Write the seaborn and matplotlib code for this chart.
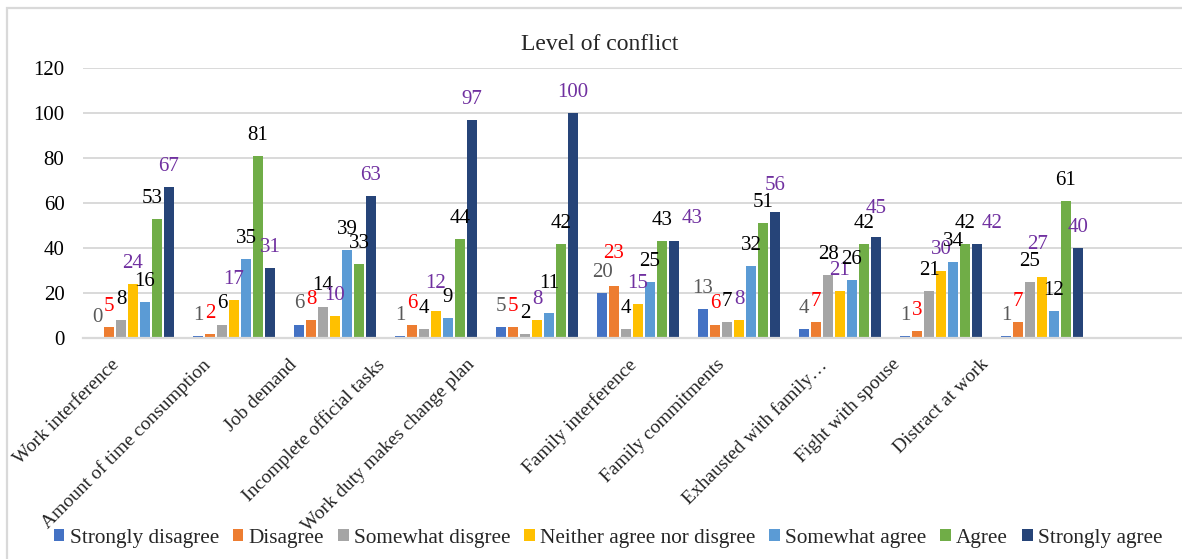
import matplotlib
matplotlib.use("Agg")
import matplotlib.pyplot as plt
import matplotlib.transforms as mtransforms
from matplotlib.patches import Rectangle
import seaborn as sns
import pandas as pd

# Survey items (x categories)
items = [
    "Work interference", "Amount of time consumption", "Job demand",
    "Incomplete official tasks", "Work duty makes change plan",
    "Family interference", "Family commitments", "Exhausted with family…",
    "Fight with spouse", "Distract at work",
]

# Response levels (legend order)
responses = [
    "Strongly disagree", "Disagree", "Somewhat disgree",
    "Neither agree nor disgree", "Somewhat agree", "Agree", "Strongly agree",
]

# Counts per response level, one value per item
strongly_disagree = [0, 1, 6, 1, 5, 20, 13, 4, 1, 1]
disagree          = [5, 2, 8, 6, 5, 23, 6, 7, 3, 7]
somewhat_disagree = [8, 6, 14, 4, 2, 4, 7, 28, 21, 25]
neutral           = [24, 17, 10, 12, 8, 15, 8, 21, 30, 27]
somewhat_agree    = [16, 35, 39, 9, 11, 25, 32, 26, 34, 12]
agree             = [53, 81, 33, 44, 42, 43, 51, 42, 42, 61]
strongly_agree    = [67, 31, 63, 97, 100, 43, 56, 45, 42, 40]

series = [strongly_disagree, disagree, somewhat_disagree, neutral,
          somewhat_agree, agree, strongly_agree]

bar_colors = ["#4472C4", "#ED7D31", "#A5A5A5", "#FFC000",
              "#5B9BD5", "#70AD47", "#264478"]
label_colors = ["#595959", "#FF0000", "#000000", "#7030A0",
                "#000000", "#000000", "#7030A0"]

# Horizontal nudge (px) of each rotated category label from its tick
label_nudge = [-22, -32, -47, -60, -71, -10, -23, -22, -50, -62]

# Value labels moved off their default spot to avoid crowding:
# (series index, item index) -> (dx px, dy px)
value_label_moves = {
    (5, 0): (-5, 0),
    (3, 3): (0, 7),
    (4, 4): (0, 9),
    (1, 5): (0, 12),
    (6, 5): (18, 2),
    (6, 6): (0, 6),
    (6, 7): (0, 8),
    (6, 8): (15, 0),
    (3, 9): (-4, 12),
}

rows = []
for resp, vals in zip(responses, series):
    for item, v in zip(items, vals):
        rows.append({"item": item, "response": resp, "value": v})
df = pd.DataFrame(rows)

sns.set_style("white")
plt.rcParams["font.family"] = ["Liberation Serif", "DejaVu Serif"]

W, H, DPI = 1182, 559, 100
PT = 72 / DPI  # points per pixel
fig = plt.figure(figsize=(W / DPI, H / DPI), dpi=DPI)
ax = fig.add_axes([82.5 / W, (H - 338) / H, 1 - 82.5 / W, (338 - 68) / H])

sns.barplot(data=df, x="item", y="value", hue="response",
            order=items, hue_order=responses, palette=bar_colors,
            saturation=1, width=0.83, gap=0.1, linewidth=0, ax=ax)

# Value labels above every bar
pad_px = 11
for si, (cont, col, vals) in enumerate(zip(ax.containers, label_colors, series)):
    anns = ax.bar_label(cont, labels=[str(v) for v in vals], padding=pad_px * PT,
                        color=col, fontsize=15)
    for ii, ann in enumerate(anns):
        if (si, ii) in value_label_moves:
            dx, dy = value_label_moves[(si, ii)]
            ann.xyann = (dx * PT, (pad_px + dy) * PT)

ax.set_ylim(0, 120)
ax.set_yticks(range(0, 121, 20))
ax.set_xlim(-0.5, -0.5 + (W - 82.5) / 101)
ax.set_xlabel("")
ax.set_ylabel("")
ax.grid(axis="y", color="#D9D9D9", linewidth=1.4)
ax.set_axisbelow(True)
for side in ["top", "right", "left"]:
    ax.spines[side].set_visible(False)
ax.spines["bottom"].set_color("#D9D9D9")
ax.spines["bottom"].set_linewidth(1.6)
ax.tick_params(axis="y", length=0, pad=13, labelsize=15, labelcolor="#000000")
ax.tick_params(axis="x", length=0, pad=0)

ax.set_xticks(range(len(items)))
ax.set_xticklabels(items, rotation=45, ha="right", va="top",
                   rotation_mode="anchor", fontsize=14)
for lab, dx in zip(ax.get_xticklabels(), label_nudge):
    shift = mtransforms.ScaledTranslation(dx / DPI, -18 / DPI,
                                          fig.dpi_scale_trans)
    lab.set_transform(lab.get_transform() + shift)

# Legend along the bottom
handles, labels = ax.get_legend_handles_labels()
ax.get_legend().remove()
fig.legend(handles, labels, loc="center", ncol=7,
           bbox_to_anchor=(608 / W, (H - 538) / H), frameon=False,
           fontsize=15.3, handlelength=0.5, handleheight=0.5,
           handletextpad=0.25, columnspacing=0.65, borderaxespad=0)

fig.text(600 / W, 1 - 44 / H, "Level of conflict", ha="center", va="center",
         fontsize=17)

# Chart frame
fig.add_artist(Rectangle((7 / W, -0.1), 1.2, 1.1 - 8 / H,
                         transform=fig.transFigure, fill=False,
                         edgecolor="#D9D9D9", linewidth=1.6, clip_on=False))

fig.savefig("out.png", dpi=DPI)
